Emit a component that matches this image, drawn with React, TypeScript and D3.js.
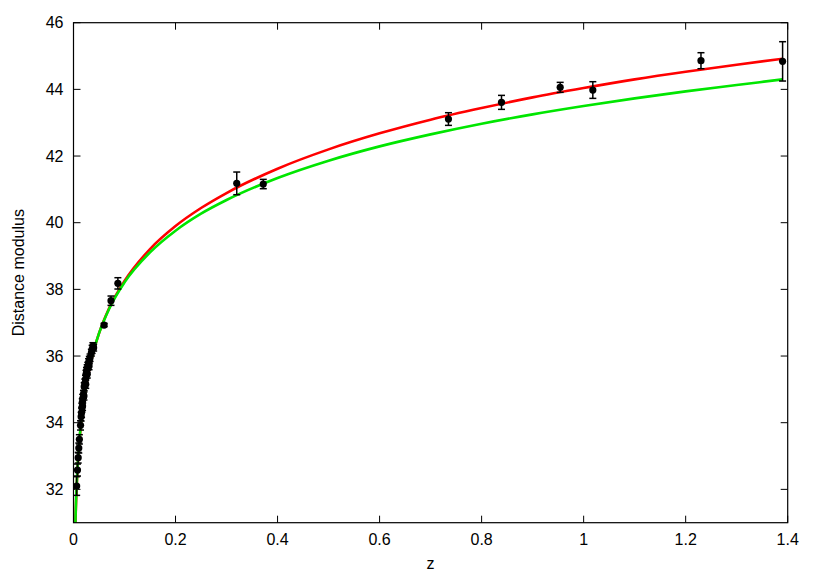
import React, { useEffect } from "react";
import * as d3 from "d3";

const curveZ = [0.003, 0.0038, 0.005, 0.0075, 0.01, 0.015, 0.02, 0.03, 0.04, 0.05, 0.07, 0.1, 0.15, 0.2, 0.25, 0.3, 0.4, 0.5, 0.6, 0.7, 0.8, 0.9, 1.0, 1.1, 1.2, 1.3, 1.39];
const redMu = [30.49, 31.0, 31.6, 32.49, 33.12, 34.0, 34.64, 35.53, 36.18, 36.68, 37.44, 38.25, 39.21, 39.9, 40.44, 40.89, 41.62, 42.2, 42.68, 43.09, 43.44, 43.76, 44.04, 44.3, 44.53, 44.74, 44.92];
const greenMu = [30.55, 31.06, 31.66, 32.54, 33.16, 34.05, 34.67, 35.56, 36.19, 36.68, 37.42, 38.21, 39.11, 39.76, 40.27, 40.68, 41.34, 41.86, 42.29, 42.65, 42.97, 43.25, 43.5, 43.73, 43.94, 44.13, 44.3];

const dataZ = [0.0062, 0.0078, 0.0092, 0.0104, 0.0115, 0.0138, 0.015, 0.0158, 0.0165, 0.0172, 0.0178, 0.018, 0.0195, 0.0205, 0.021, 0.0222, 0.0235, 0.024, 0.0245, 0.0255, 0.0268, 0.027, 0.028, 0.0295, 0.0305, 0.031, 0.0325, 0.035, 0.0365, 0.038, 0.0395, 0.06, 0.0735, 0.087, 0.32, 0.372, 0.735, 0.839, 0.954, 1.018, 1.23, 1.39];
const dataMu = [32.1, 32.58, 32.95, 33.24, 33.5, 33.92, 34.18, 34.3, 34.45, 34.6, 34.5, 34.72, 34.85, 34.8, 35.08, 35.18, 35.3, 35.15, 35.45, 35.55, 35.62, 35.45, 35.7, 35.8, 35.7, 35.88, 35.95, 36.1, 36.2, 36.3, 36.25, 36.93, 37.66, 38.18, 41.18, 41.16, 43.11, 43.61, 44.06, 43.98, 44.86, 44.84];
const dataErr = [0.28, 0.18, 0.16, 0.15, 0.14, 0.14, 0.13, 0.14, 0.13, 0.12, 0.13, 0.13, 0.12, 0.12, 0.12, 0.13, 0.12, 0.12, 0.12, 0.11, 0.12, 0.11, 0.11, 0.12, 0.11, 0.11, 0.11, 0.1, 0.12, 0.1, 0.1, 0.05, 0.14, 0.17, 0.34, 0.14, 0.19, 0.21, 0.15, 0.25, 0.24, 0.59];

const xTicks = [0, 0.2, 0.4, 0.6, 0.8, 1.0, 1.2, 1.4];
const yTicks = [32, 34, 36, 38, 40, 42, 44, 46];

const W = 821, H = 583;
const L = 73.5, R = 787.7, T = 22.7, B = 522.7;
const FONT = "'Liberation Sans', Arial, sans-serif";

export default function App() {
  useEffect(() => {
    document.body.style.margin = "0";
  }, []);

  const x = d3.scaleLinear().domain([0, 1.4]).range([L, R]);
  const y = d3.scaleLinear().domain([31, 46]).range([B, T]);

  const line = d3
    .line<[number, number]>()
    .x((d) => x(d[0]))
    .y((d) => y(d[1]))
    .curve(d3.curveMonotoneX);

  const redPath = line(curveZ.map((z, i) => [z, redMu[i]] as [number, number])) || "";
  const greenPath = line(curveZ.map((z, i) => [z, greenMu[i]] as [number, number])) || "";

  const tickLen = 7;

  return (
    <svg width={W} height={H} style={{ display: "block", background: "#fff" }} fontFamily={FONT}>
      <defs>
        <clipPath id="plotclip">
          <rect x={L} y={T} width={R - L} height={B - T} />
        </clipPath>
      </defs>
      <rect x={0} y={0} width={W} height={H} fill="#fff" />

      {xTicks.map((t) => (
        <g key={"xt" + t}>
          <line x1={x(t)} x2={x(t)} y1={B} y2={B - tickLen} stroke="#000" strokeWidth={1} />
          <line x1={x(t)} x2={x(t)} y1={T} y2={T + tickLen} stroke="#000" strokeWidth={1} />
          <text x={x(t)} y={545} textAnchor="middle" fontSize={16} fill="#000">
            {d3.format("~g")(t)}
          </text>
        </g>
      ))}
      {yTicks.map((t) => (
        <g key={"yt" + t}>
          <line x1={L} x2={L + tickLen} y1={y(t)} y2={y(t)} stroke="#000" strokeWidth={1} />
          <line x1={R} x2={R - tickLen} y1={y(t)} y2={y(t)} stroke="#000" strokeWidth={1} />
          <text x={63.5} y={y(t) + 5.7} textAnchor="end" fontSize={16} fill="#000">
            {t}
          </text>
        </g>
      ))}

      <g clipPath="url(#plotclip)">
        <path d={redPath} fill="none" stroke="#ff0000" strokeWidth={2.6} />
        <path d={greenPath} fill="none" stroke="#00e600" strokeWidth={2.6} />
      </g>

      <g>
        {dataZ.map((z, i) => {
          const cx = x(z);
          const y1 = y(dataMu[i] + dataErr[i]);
          const y2 = y(dataMu[i] - dataErr[i]);
          return (
            <g key={"p" + i}>
              <line x1={cx} x2={cx} y1={y1} y2={y2} stroke="#000" strokeWidth={1.5} />
              <line x1={cx - 3.5} x2={cx + 3.5} y1={y1} y2={y1} stroke="#000" strokeWidth={1.5} />
              <line x1={cx - 3.5} x2={cx + 3.5} y1={y2} y2={y2} stroke="#000" strokeWidth={1.5} />
              <circle cx={cx} cy={y(dataMu[i])} r={3.6} fill="#000" />
            </g>
          );
        })}
      </g>

      <rect x={L} y={T} width={R - L} height={B - T} fill="none" stroke="#000" strokeWidth={1.2} />

      <text x={(L + R) / 2} y={569} textAnchor="middle" fontSize={16} fill="#000">
        z
      </text>
      <text
        transform={`translate(24, ${(T + B) / 2}) rotate(-90)`}
        textAnchor="middle"
        fontSize={16}
        fill="#000"
      >
        Distance modulus
      </text>
    </svg>
  );
}
